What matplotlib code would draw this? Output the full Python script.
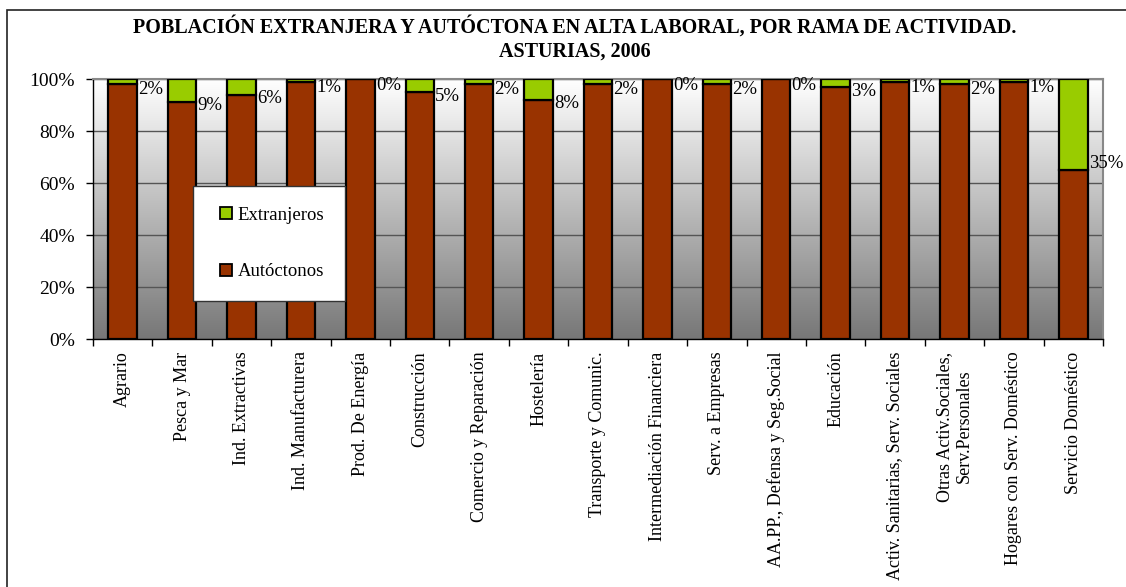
import numpy as np
import matplotlib
matplotlib.use('Agg')
import matplotlib.pyplot as plt
from matplotlib.colors import LinearSegmentedColormap
from matplotlib.lines import Line2D
from matplotlib.patches import Rectangle

plt.rcParams['font.family'] = ['Liberation Serif', 'DejaVu Serif']

categories = ['Agrario', 'Pesca y Mar', 'Ind. Extractivas', 'Ind. Manufacturera',
              'Prod. De Energía', 'Construcción', 'Comercio y Reparación', 'Hostelería',
              'Transporte y Comunic.', 'Intermediación Financiera', 'Serv. a Empresas',
              'AA.PP., Defensa y Seg.Social', 'Educación',
              'Activ. Sanitarias, Serv. Sociales',
              'Otras Activ.Sociales,\nServ.Personales',
              'Hogares con Serv. Doméstico', 'Servicio Doméstico']
extranjeros = [2, 9, 6, 1, 0, 5, 2, 8, 2, 0, 2, 0, 3, 1, 2, 1, 35]
autoctonos = [100 - v for v in extranjeros]

col_aut = '#993300'
col_ext = '#99CC00'
fs = 13

fig = plt.figure(figsize=(11.26, 5.87), dpi=100)
ax = fig.add_axes([93/1126, 1 - 339/587, 1010/1126, 260/587])

x = np.arange(len(categories))

# background gradient (white top -> gray bottom)
cmap = LinearSegmentedColormap.from_list('bg', ['#777777', '#ffffff'])
ax.imshow(np.linspace(0, 1, 256).reshape(-1, 1), extent=(-0.5, len(x) - 0.5, 0, 100),
          aspect='auto', cmap=cmap, origin='lower', zorder=0)

ax.bar(x, autoctonos, width=0.48, color=col_aut, edgecolor='black', linewidth=1.6, zorder=3)
ax.bar(x, extranjeros, bottom=autoctonos, width=0.48, color=col_ext, edgecolor='black',
       linewidth=1.6, zorder=3)

for xi, v in zip(x, extranjeros):
    ax.text(xi + 0.26, 97.6 - 0.86 * v, f'{v}%', ha='left', va='center', fontsize=13.5, zorder=4)

ax.set_xlim(-0.5, len(x) - 0.5)
ax.set_ylim(0, 100)
ax.set_yticks(range(0, 101, 20))
ax.set_yticklabels([f'{t}%' for t in range(0, 101, 20)], fontsize=14)
ax.yaxis.grid(True, color='#555555', linewidth=1.0, zorder=1)
ax.set_axisbelow(True)

ax.set_xticks(x)
ax.set_xticklabels(categories, rotation=90, fontsize=fs, va='top', ha='center',
                   multialignment='center')
ax.set_xticks(np.arange(-0.5, len(x), 1), minor=True)
ax.tick_params(axis='x', which='major', length=0, pad=9)
ax.tick_params(axis='x', which='minor', length=5, direction='out', width=1)
ax.tick_params(axis='y', length=5, direction='out', width=1, pad=8)

for s in ['top', 'right']:
    ax.spines[s].set_color('#888888')
    ax.spines[s].set_linewidth(1.5)
for s in ['left', 'bottom']:
    ax.spines[s].set_color('black')
    ax.spines[s].set_linewidth(1)

handles = [Line2D([], [], marker='s', linestyle='none', markersize=8,
                  markerfacecolor=col_ext, markeredgecolor='black', markeredgewidth=1.3),
           Line2D([], [], marker='s', linestyle='none', markersize=8,
                  markerfacecolor=col_aut, markeredgecolor='black', markeredgewidth=1.3)]
leg = ax.legend(handles, ['Extranjeros', 'Autóctonos'], loc='upper left',
                bbox_to_anchor=((193 - 93) / 1010, (339 - 186) / 260),
                borderaxespad=0, fontsize=13.5, labelspacing=2.1, borderpad=1.1,
                handlelength=1.28, handletextpad=0.0, frameon=True, fancybox=False,
                framealpha=1, edgecolor='#333333')
leg.get_frame().set_linewidth(1)
leg.set_zorder(5)

fig.text(575 / 1126, 1 - 27 / 587,
         'POBLACIÓN EXTRANJERA Y AUTÓCTONA EN ALTA LABORAL, POR RAMA DE ACTIVIDAD.',
         ha='center', va='center', fontsize=14.5, fontweight='bold')
fig.text(575 / 1126, 1 - 52 / 587, 'ASTURIAS, 2006',
         ha='center', va='center', fontsize=14.5, fontweight='bold')

# outer chart frame
fig.patches.append(Rectangle((7 / 1126, -0.1), 1.2, 1.1 - 10 / 587,
                             transform=fig.transFigure, fill=False,
                             edgecolor='#222222', linewidth=1.2))

fig.savefig('out.png', dpi=100)
